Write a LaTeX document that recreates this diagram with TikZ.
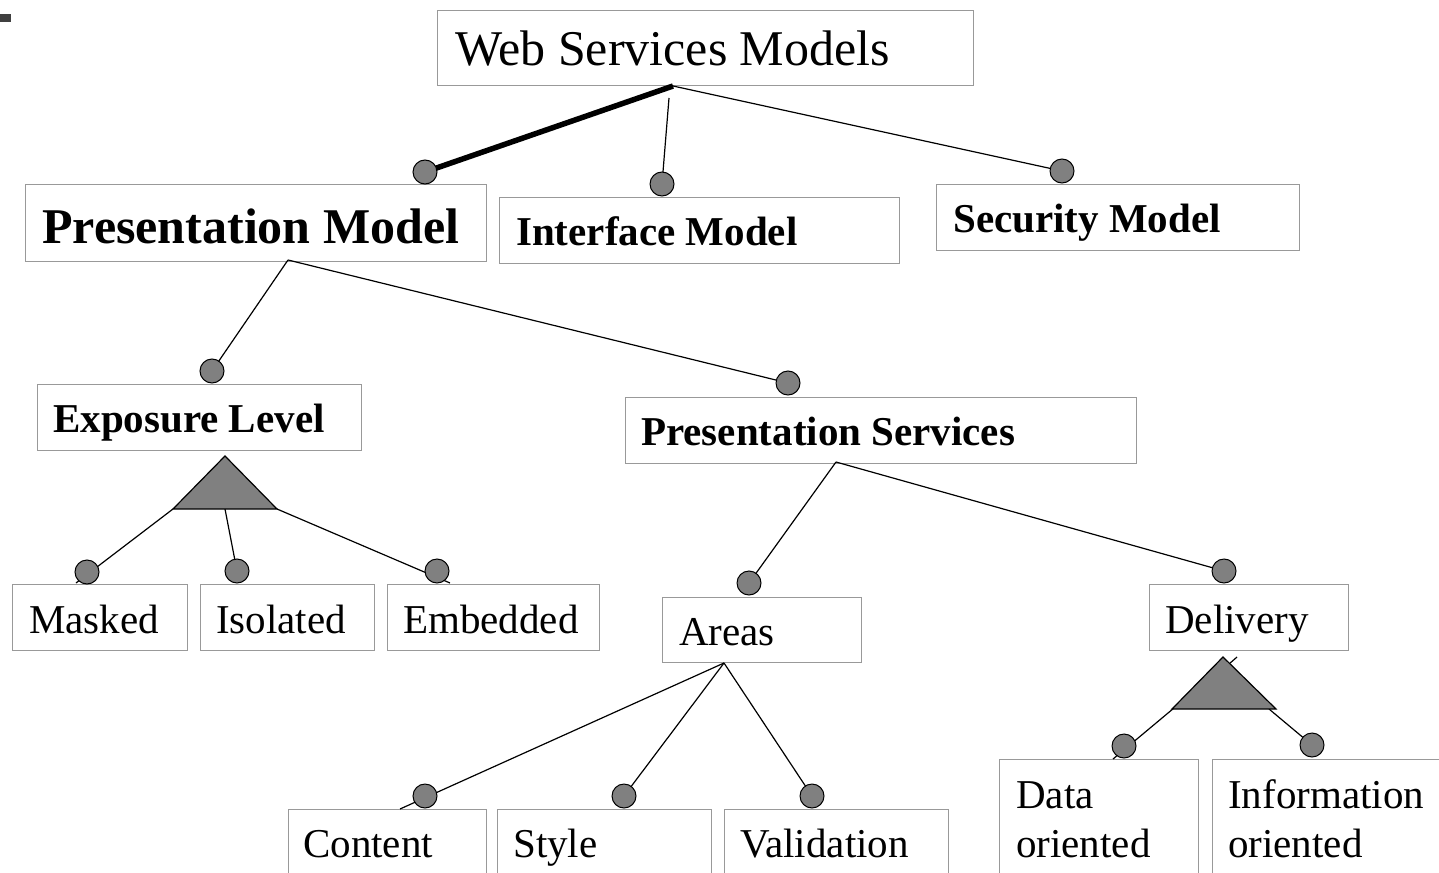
\documentclass[tikz,border=0pt]{standalone}
\usepackage{fontspec}
\setmainfont{Liberation Serif}
\definecolor{boxgray}{HTML}{999999}
\definecolor{dotgray}{HTML}{808080}
\definecolor{markgray}{HTML}{404040}
\begin{document}
\begin{tikzpicture}[x=1pt,y=-1pt,
  box/.style={draw=boxgray, line width=1.3pt, inner sep=0, anchor=north west},
  txt/.style={anchor=base west, inner sep=0, font=\fontsize{41}{48}\selectfont},
  btxt/.style={anchor=base west, inner sep=0, font=\fontsize{41}{48}\selectfont\bfseries},
  dot/.style={circle, fill=dotgray, draw=black, line width=1pt, minimum size=24pt, inner sep=0},
  conn/.style={draw=black, line width=1.2pt},
  tri/.style={fill=dotgray, draw=black, line width=1.2pt, line join=miter}]
\useasboundingbox (0,0) rectangle (1439,872);
\clip (0,0) rectangle (1439,872);
\fill[markgray] (0,14) rectangle (11,22);

% boxes
\node[box, minimum width=536pt, minimum height=75pt] (wsm) at (437,10) {};
\node[box, minimum width=461pt, minimum height=77pt] (pm) at (25,184) {};
\node[box, minimum width=400pt, minimum height=66pt] (im) at (499,197) {};
\node[box, minimum width=363pt, minimum height=66pt] (sm) at (936,184) {};
\node[box, minimum width=324pt, minimum height=66pt] (el) at (37,384) {};
\node[box, minimum width=511pt, minimum height=66pt] (ps) at (625,397) {};
\node[box, minimum width=175pt, minimum height=66pt] (mk) at (12,584) {};
\node[box, minimum width=174pt, minimum height=66pt] (iso) at (200,584) {};
\node[box, minimum width=212pt, minimum height=66pt] (emb) at (387,584) {};
\node[box, minimum width=199pt, minimum height=65pt] (ar) at (662,597) {};
\node[box, minimum width=199pt, minimum height=66pt] (del) at (1149,584) {};
\node[box, minimum width=198pt, minimum height=80pt] (con) at (288,809) {};
\node[box, minimum width=214pt, minimum height=80pt] (sty) at (497,809) {};
\node[box, minimum width=224pt, minimum height=80pt] (val) at (724,809) {};
\node[box, minimum width=199pt, minimum height=130pt] (dat) at (999,759) {};
\node[box, minimum width=270pt, minimum height=130pt] (inf) at (1212,759) {};

% texts
\node[txt, font=\fontsize{50}{60}\selectfont] (t-wsm) at (455,66) {Web Services Models};
\node[btxt, font=\fontsize{50}{60}\selectfont\bfseries] (t-pm) at (42,243) {Presentation Model};
\node[btxt] (t-im) at (516,245) {Interface Model};
\node[btxt] (t-sm) at (953,232) {Security Model};
\node[btxt] (t-el) at (53,432) {Exposure Level};
\node[btxt] (t-ps) at (641,445) {Presentation Services};
\node[txt] (t-mk) at (29,633) {Masked};
\node[txt] (t-iso) at (216,633) {Isolated};
\node[txt] (t-emb) at (403,633) {Embedded};
\node[txt] (t-ar) at (679,645) {Areas};
\node[txt] (t-del) at (1165,633) {Delivery};
\node[txt] (t-con) at (303,857) {Content};
\node[txt] (t-sty) at (513,857) {Style};
\node[txt] (t-val) at (740,857) {Validation};
\node[txt] (t-dat1) at (1016,808) {Data};
\node[txt] (t-dat2) at (1016,857) {oriented};
\node[txt] (t-inf1) at (1228,808) {Information};
\node[txt] (t-inf2) at (1228,857) {oriented};

% connector anchor points
\coordinate (wsm-b) at (673,86);
\coordinate (wsm-b2) at (669,98);
\coordinate (pm-b) at (288,260);
\coordinate (ps-b) at (836,462);
\coordinate (ar-b) at (724,663);
% triangles
\coordinate (elt-a) at (225,456);
\coordinate (elt-l) at (173,509);
\coordinate (elt-r) at (277,509);
\coordinate (elt-m) at (225,509);
\coordinate (dt-a) at (1223,657);
\coordinate (dt-l) at (1172,709);
\coordinate (dt-r) at (1276,709);
\coordinate (dt-bl) at (1174,708);
\coordinate (dt-br) at (1269,709);
\coordinate (del-s1) at (1237,657);
\coordinate (del-s2) at (1229,664);
% line ends beyond dots
\coordinate (mk-e) at (76,583);
\coordinate (emb-e) at (450,583);
\coordinate (con-e) at (400,809);
\coordinate (dat-e) at (1113,759);

% dot positions
\coordinate (d-pm) at (425,172);
\coordinate (d-im) at (662,184);
\coordinate (d-sm) at (1062,171);
\coordinate (d-el) at (212,371);
\coordinate (d-ps) at (788,383);
\coordinate (d-mk) at (87,572);
\coordinate (d-iso) at (237,571);
\coordinate (d-emb) at (437,571);
\coordinate (d-ar) at (749,583);
\coordinate (d-del) at (1224,571);
\coordinate (d-con) at (425,796);
\coordinate (d-sty) at (624,796);
\coordinate (d-val) at (812,796);
\coordinate (d-dat) at (1124,746);
\coordinate (d-inf) at (1312,745);

% connectors
\draw[draw=black, line width=5.5pt] (wsm-b) -- (d-pm);
\draw[conn] (wsm-b2) -- (d-im);
\draw[conn] (wsm-b) -- (d-sm);
\draw[conn] (pm-b) -- (d-el);
\draw[conn] (pm-b) -- (d-ps);
\draw[conn] (elt-l) -- (mk-e);
\draw[conn] (elt-m) -- (d-iso);
\draw[conn] (elt-r) -- (emb-e);
\draw[conn] (ps-b) -- (d-ar);
\draw[conn] (ps-b) -- (d-del);
\draw[conn] (ar-b) -- (con-e);
\draw[conn] (ar-b) -- (d-sty);
\draw[conn] (ar-b) -- (d-val);
\draw[conn] (dt-bl) -- (dat-e);
\draw[conn] (dt-br) -- (d-inf);
\draw[conn] (del-s1) -- (del-s2);

% triangles
\path[tri] (elt-a) -- (elt-r) -- (elt-l) -- cycle;
\path[tri] (dt-a) -- (dt-r) -- (dt-l) -- cycle;

% dots
\foreach \d in {pm,im,sm,el,ps,mk,iso,emb,ar,del,con,sty,val,dat,inf}
  \node[dot] (dot-\d) at (d-\d) {};
\end{tikzpicture}
\end{document}
